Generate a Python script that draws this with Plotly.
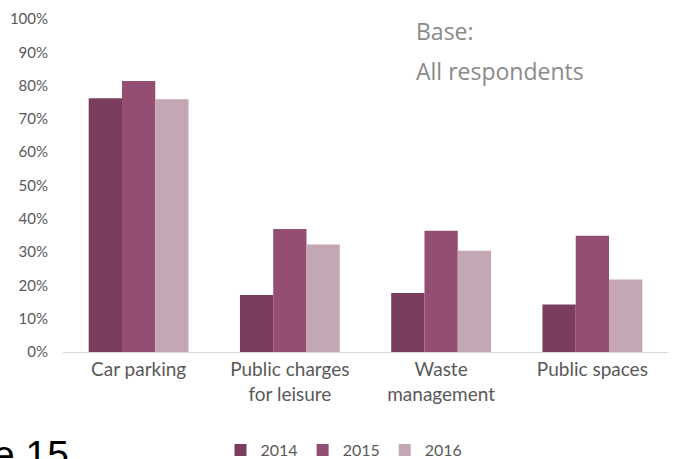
import plotly.graph_objects as go

categories = ["Car parking", "Public charges<br>for leisure", "Waste<br>management", "Public spaces"]
years = ["2014", "2015", "2016"]
values_2014 = [0.762, 0.171, 0.177, 0.143]
values_2015 = [0.814, 0.369, 0.364, 0.349]
values_2016 = [0.759, 0.323, 0.304, 0.218]
colors = ["#7A3D5E", "#954E73", "#C3A7B4"]

W, H = 674, 459
L, R, T, B = 63, 6, 19, 107

fig = go.Figure()
for name, vals, c in zip(years, [values_2014, values_2015, values_2016], colors):
    fig.add_trace(go.Bar(x=categories, y=vals, name=name, marker=dict(color=c, line=dict(width=0))))

pw = W - L - R
ph = H - T - B
def px_x(x):
    return (x - L) / pw
def px_y(y):
    return (H - B - y) / ph

fig.update_layout(
    width=W, height=H,
    margin=dict(l=L, r=R, t=T, b=B, autoexpand=False),
    paper_bgcolor="white", plot_bgcolor="white",
    barmode="group", bargap=0.34, bargroupgap=0,
    font=dict(family="Lato", color="#595959"),
    showlegend=True,
    legend=dict(orientation="h", x=px_x(344), y=px_y(450), xanchor="center", yanchor="middle",
                font=dict(size=16, color="#595959"), traceorder="normal",
                itemsizing="constant"),
    xaxis=dict(showline=True, linecolor="#D9D9D9", linewidth=1, ticks="", showgrid=False,
               automargin=False, tickfont=dict(size=19, color="#595959")),
    yaxis=dict(range=[0, 1], dtick=0.1, tickformat=".0%", showgrid=False, showline=False,
               automargin=False, zeroline=False, ticks="",
               tickfont=dict(size=15, color="#595959"), ticklabelstandoff=14),
)

fig.add_annotation(text="Base:", xref="paper", yref="paper", x=px_x(414), y=px_y(31),
                   xanchor="left", yanchor="middle", showarrow=False,
                   font=dict(family="Open Sans", size=23, color="#8A8A8A"))
fig.add_annotation(text="All respondents", xref="paper", yref="paper", x=px_x(414), y=px_y(71),
                   xanchor="left", yanchor="middle", showarrow=False,
                   font=dict(family="Open Sans", size=23, color="#8A8A8A"))
fig.add_annotation(text="e 15", xref="paper", yref="paper", x=px_x(71), y=px_y(431),
                   xanchor="right", yanchor="top", showarrow=False,
                   font=dict(family="Liberation Sans", size=39, color="#000000"))

fig.write_html("out.html", config={"displayModeBar": False},
               post_script="document.body.style.margin='0px';")
